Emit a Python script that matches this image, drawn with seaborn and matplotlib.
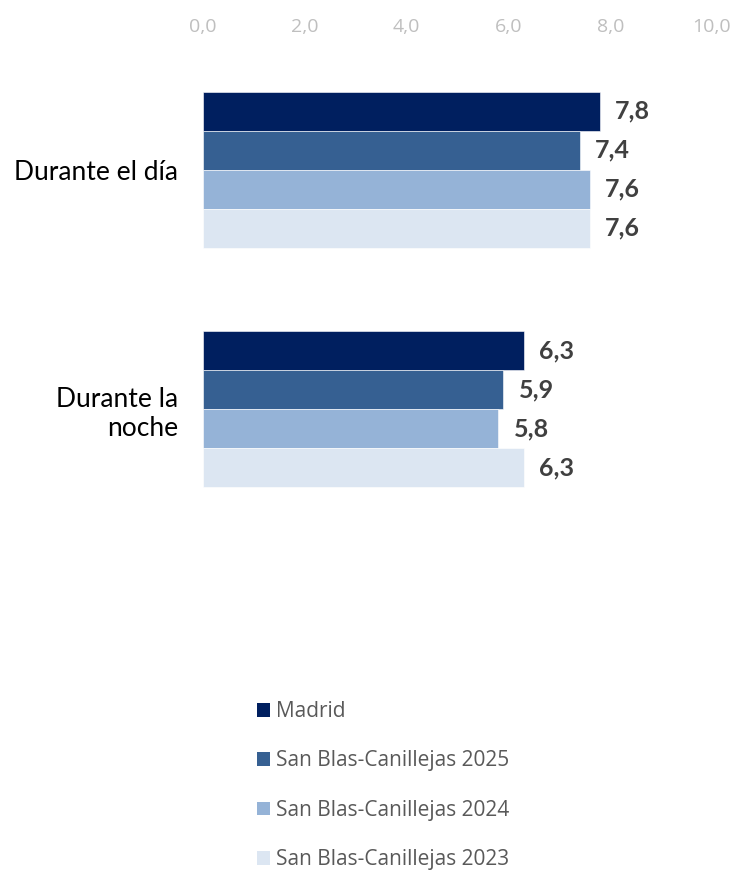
import matplotlib
matplotlib.use("Agg")
import matplotlib.pyplot as plt
import seaborn as sns
import pandas as pd
from matplotlib.patches import Patch

categorias = ["Durante el día", "Durante la\nnoche"]
series = ["Madrid", "San Blas-Canillejas 2025", "San Blas-Canillejas 2024", "San Blas-Canillejas 2023"]
madrid = [7.8, 6.3]
sb_2025 = [7.4, 5.9]
sb_2024 = [7.6, 5.8]
sb_2023 = [7.6, 6.3]
colores = ["#001F5F", "#366092", "#95B3D7", "#DCE6F2"]
ticks = [0, 2, 4, 6, 8, 10]

rows = []
for nombre, vals in zip(series, [madrid, sb_2025, sb_2024, sb_2023]):
    for cat, v in zip(categorias, vals):
        rows.append({"cat": cat, "serie": nombre, "valor": v})
df = pd.DataFrame(rows)

sns.set_style("white")
plt.rcParams["font.family"] = ["Lato", "DejaVu Sans"]

fig = plt.figure(figsize=(7.35, 8.72), dpi=100)
ax = fig.add_axes([0.2762, 0.3933, 0.6925, 0.5494])

sns.barplot(data=df, y="cat", x="valor", hue="serie", orient="h",
            palette=colores, hue_order=series, order=categorias, saturation=1,
            width=0.65, ax=ax, legend=False, edgecolor="white", linewidth=0.4)

for cont in ax.containers:
    ax.bar_label(cont, labels=[f"{b.get_width():.1f}".replace(".", ",") for b in cont],
                 padding=11, fontsize=18, fontweight="bold", color="#404040")

ax.set_xlim(0, 10)
ax.set_ylim(1.5, -0.5)
ax.set_xticks(ticks)
ax.set_xticklabels([f"{t:.1f}".replace(".", ",") for t in ticks], fontsize=14,
                   color="#BFBFBF", family=["Open Sans", "DejaVu Sans"])
ax.xaxis.tick_top()
ax.tick_params(axis="x", length=0, pad=10)
ax.tick_params(axis="y", length=0, pad=18, labelsize=19, labelcolor="black")
for lab in ax.get_yticklabels():
    lab.set_horizontalalignment("right")
    lab.set_multialignment("right")
ax.set_xlabel("")
ax.set_ylabel("")
for s in ax.spines.values():
    s.set_visible(False)

handles = [Patch(facecolor=c, edgecolor="none") for c in colores]
fig.legend(handles, series, loc="upper left", bbox_to_anchor=(0.324, 0.2175),
           frameon=False, labelcolor="#595959",
           handlelength=0.62, handleheight=0.62, handletextpad=0.3,
           labelspacing=1.36, prop={"family": ["Open Sans", "DejaVu Sans"], "size": 15})

fig.savefig("out.png", dpi=100)
